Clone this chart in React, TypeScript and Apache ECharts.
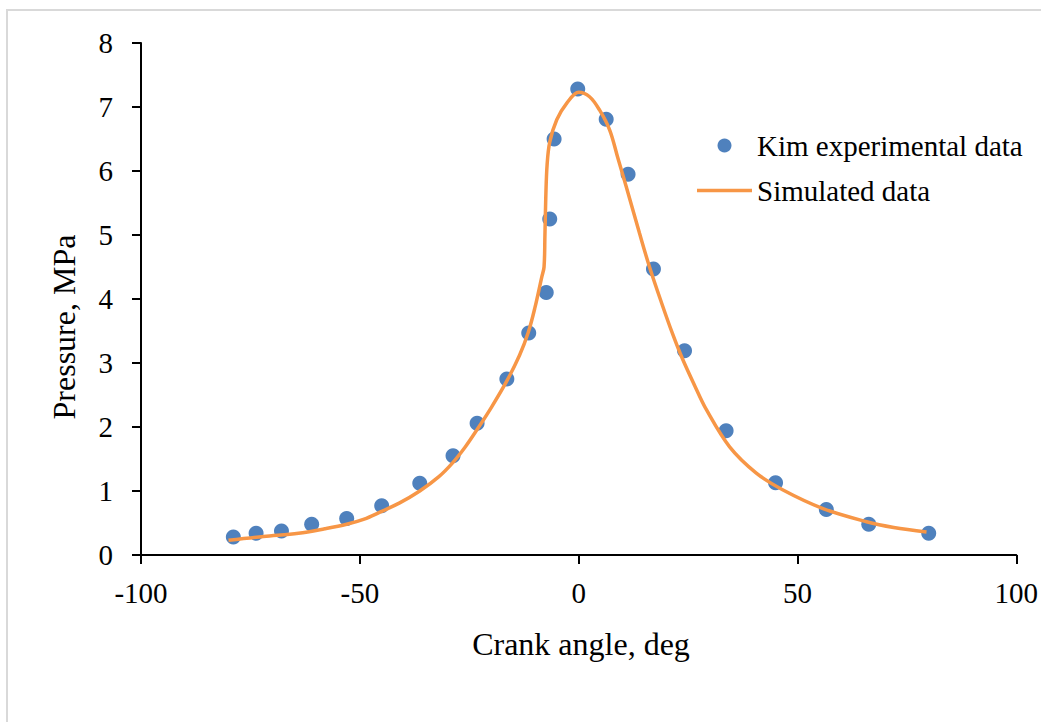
import React, { useEffect, useRef } from "react";
import * as echarts from "echarts";

const expAngle = [-78.9, -73.7, -67.9, -61.0, -53.0, -45.0, -36.3, -28.7, -23.2, -16.4, -11.4, -7.4, -6.6, -5.6, -0.2, 6.3, 11.3, 17.1, 24.2, 33.7, 45.0, 56.6, 66.3, 80.0];
const expPressure = [0.28, 0.34, 0.375, 0.48, 0.57, 0.77, 1.12, 1.55, 2.06, 2.75, 3.47, 4.1, 5.25, 6.5, 7.28, 6.81, 5.95, 4.47, 3.19, 1.94, 1.13, 0.71, 0.48, 0.34];

const simAngle = [-80, -72, -64, -58, -53, -49, -45.4, -41, -36.3, -32, -28.8, -26, -23.3, -20, -16.4, -13.5, -11.5, -10, -8.4, -7.9, -7.7, -7.5, -7.2, -6.6, -5, -2.7, 0, 2.5, 4.8, 7.1, 8.9, 10.9, 13.9, 16.2, 18.9, 21.5, 23.7, 26.5, 29.2, 34.5, 40.6, 46.6, 55.7, 65.8, 72, 79.5];
const simPressure = [0.23, 0.29, 0.34, 0.41, 0.48, 0.56, 0.67, 0.81, 1.0, 1.22, 1.44, 1.68, 1.95, 2.3, 2.72, 3.12, 3.48, 3.86, 4.35, 4.5, 5.0, 5.6, 6.1, 6.45, 6.8, 7.06, 7.23, 7.16, 6.95, 6.64, 6.22, 5.75, 5.03, 4.5, 3.95, 3.45, 3.07, 2.65, 2.27, 1.69, 1.28, 1.02, 0.73, 0.52, 0.43, 0.36];

const FONT = "'Liberation Serif', 'Times New Roman', serif";

export default function App() {
  const ref = useRef<HTMLDivElement>(null);
  useEffect(() => {
    if (!ref.current) return;
    const chart = echarts.init(ref.current, undefined, { renderer: "svg" });
    const axisCommon = {
      axisTick: { show: true, inside: false, length: 9, lineStyle: { color: "#000", width: 2 } },
      splitLine: { show: false },
    };
    chart.setOption({
      animation: false,
      backgroundColor: "#fff",
      grid: { left: 141, right: 24, top: 43, bottom: 167, containLabel: false },
      xAxis: {
        type: "value",
        min: -100,
        max: 100,
        interval: 50,
        ...axisCommon,
        axisLine: { show: true, onZero: false, lineStyle: { color: "#000", width: 2 } },
        axisLabel: { color: "#000", fontFamily: FONT, fontSize: 29, margin: 23 },
      },
      yAxis: {
        type: "value",
        min: 0,
        max: 8,
        interval: 1,
        ...axisCommon,
        axisLine: { show: true, onZero: false, lineStyle: { color: "#000", width: 2 } },
        axisLabel: { color: "#000", fontFamily: FONT, fontSize: 29, margin: 28 },
      },
      legend: {
        orient: "vertical",
        left: 692,
        top: 126,
        itemWidth: 55,
        itemHeight: 14,
        itemGap: 16,
        textStyle: { color: "#000", fontFamily: FONT, fontSize: 29 },
        data: [
          { name: "Kim experimental data", icon: "circle", itemStyle: { color: "#4F81BD", opacity: 1 } },
          { name: "Simulated data", icon: "path://M0 0H55V3.5H0Z", itemStyle: { color: "#F79646" } },
        ],
      },
      graphic: [
        {
          type: "rect",
          shape: { x: 7, y: 10, width: 1060, height: 740 },
          style: { fill: "none", stroke: "#d9d9d9", lineWidth: 2 },
          silent: true,
        },
        {
          type: "text",
          x: 581,
          y: 644,
          style: { text: "Crank angle, deg", fill: "#000", font: `32px ${FONT}`, textAlign: "center", textVerticalAlign: "middle" },
        },
        {
          type: "text",
          x: 64,
          y: 327,
          rotation: Math.PI / 2,
          style: { text: "Pressure, MPa", fill: "#000", font: `32px ${FONT}`, textAlign: "center", textVerticalAlign: "middle" },
        },
      ],
      series: [
        {
          name: "Kim experimental data",
          type: "scatter",
          symbol: "circle",
          symbolSize: 15,
          itemStyle: { color: "#4F81BD", opacity: 1 },
          data: expAngle.map((a, i) => [a, expPressure[i]]),
          z: 2,
        },
        {
          name: "Simulated data",
          type: "line",
          symbol: "none",
          showSymbol: false,
          smooth: 0.35,
          lineStyle: { color: "#F79646", width: 3.5 },
          itemStyle: { color: "#F79646" },
          data: simAngle.map((a, i) => [a, simPressure[i]]),
          z: 3,
        },
      ],
    });
    return () => chart.dispose();
  }, []);
  return (
    <div
      ref={ref}
      style={{ position: "absolute", left: 0, top: 0, width: 1041, height: 722, background: "#fff" }}
    />
  );
}
